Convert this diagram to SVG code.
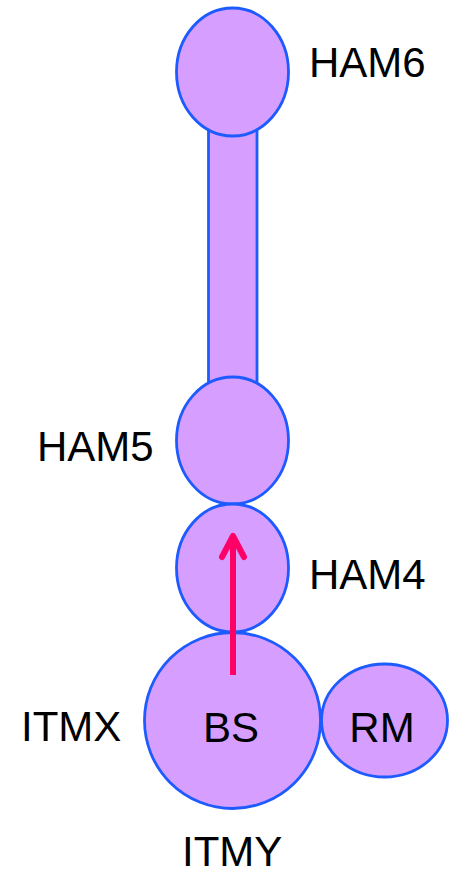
<svg xmlns="http://www.w3.org/2000/svg" width="449" height="877" viewBox="0 0 449 877">
<defs>
<style>
.n{fill:#D59EFF;stroke:#1E5BFF;stroke-width:2.8}
.t{font-family:"Liberation Sans",Arial,sans-serif;font-size:42px;fill:#000}
.a{fill:none;stroke:#FF0066;stroke-width:6;stroke-linecap:round;stroke-linejoin:round}
</style>
</defs>
<rect width="449" height="877" fill="#fff"/>
<g id="stem"><rect class="n" x="208.5" y="125" width="48.5" height="262"/></g>
<g id="HAM6"><ellipse class="n" cx="232.5" cy="72" rx="56" ry="64"/><text class="t" x="309" y="77">HAM6</text></g>
<g id="HAM5"><ellipse class="n" cx="232.5" cy="440.5" rx="56" ry="63.5"/><text class="t" x="37" y="461">HAM5</text></g>
<g id="HAM4"><ellipse class="n" cx="232.5" cy="568" rx="56" ry="64"/><text class="t" x="309" y="589">HAM4</text></g>
<g id="BS"><circle class="n" cx="232.5" cy="720.5" r="88"/><text class="t" x="231" y="742" text-anchor="middle">BS</text></g>
<g id="RM"><ellipse class="n" cx="384.5" cy="720.5" rx="63" ry="56.5"/><text class="t" x="382" y="742" text-anchor="middle">RM</text></g>
<text class="t" x="21" y="741">ITMX</text>
<text class="t" x="182" y="866">ITMY</text>
<g id="connectors">
<path class="a" d="M233 675 V536" style="stroke-linecap:butt"/>
<path class="a" d="M222 557 L233 536 L244 557"/>
</g>
</svg>
